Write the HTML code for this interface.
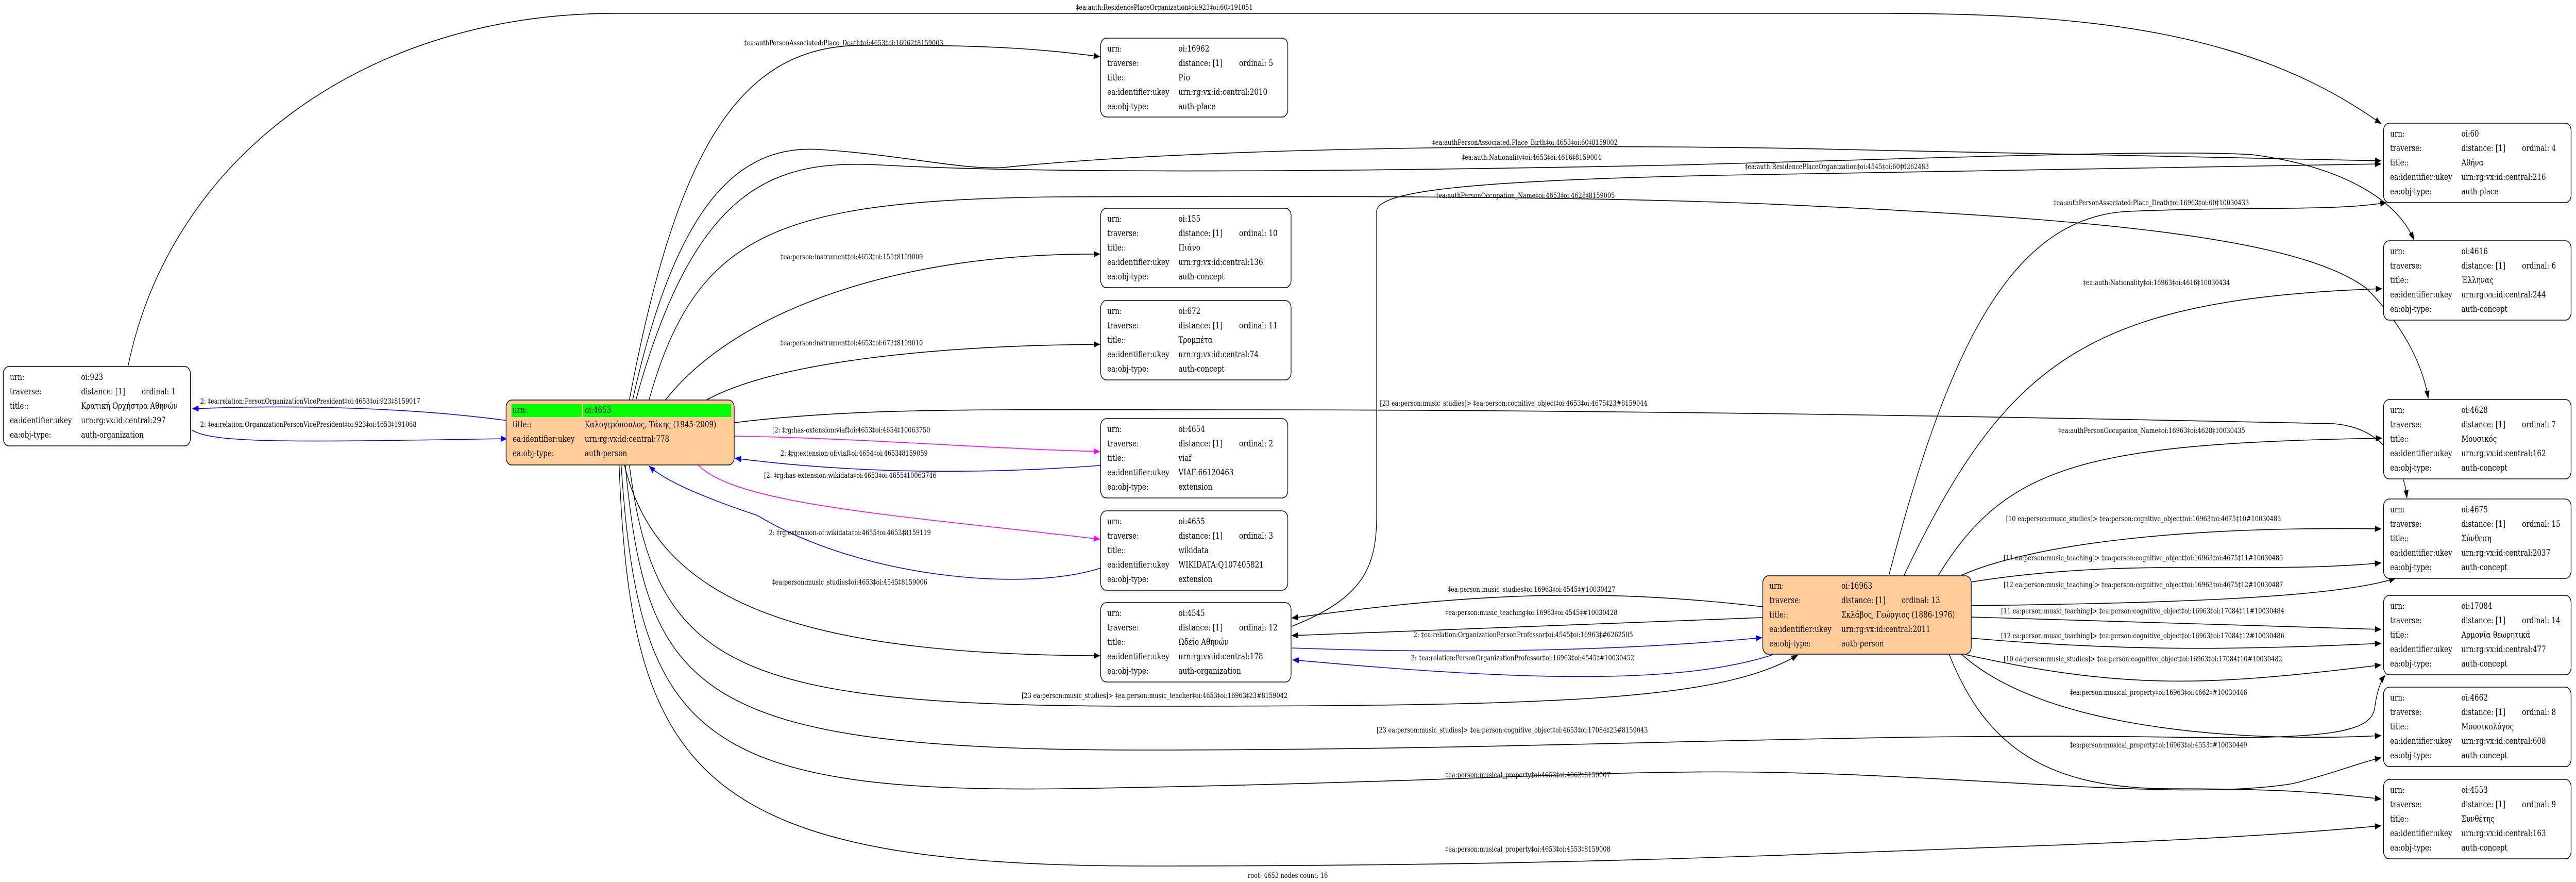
<!DOCTYPE html>
<html><head><meta charset="utf-8"><style>
html,body{margin:0;padding:0;background:#fff;width:100%;height:100%;overflow:hidden}
svg{display:block;position:absolute;left:0;top:0;width:100vw;height:100vh}
text{font-family:"DejaVu Serif","Liberation Serif",serif;font-size:14.3px;fill:#000}
.n text{font-size:17px}
path.e{fill:none;stroke:#000;stroke-width:1.6}
path.b{fill:none;stroke:#0000ff;stroke-width:1.6}
path.m{fill:none;stroke:#ff00ff;stroke-width:1.6}
rect.box{fill:#fff;stroke:#000;stroke-width:1.6}
rect.or{fill:#ffcc99;stroke:#000;stroke-width:1.6}
</style></head><body>
<svg viewBox="0 0 6291 1711" preserveAspectRatio="none" xmlns="http://www.w3.org/2000/svg">
<defs>
<marker id="ak" markerUnits="userSpaceOnUse" markerWidth="16" markerHeight="12" refX="15" refY="6" orient="auto"><path d="M0,0 L16,6 L0,12 z" fill="#000"/></marker>
<marker id="ab" markerUnits="userSpaceOnUse" markerWidth="16" markerHeight="12" refX="15" refY="6" orient="auto"><path d="M0,0 L16,6 L0,12 z" fill="#0000ff"/></marker>
<marker id="am" markerUnits="userSpaceOnUse" markerWidth="16" markerHeight="12" refX="15" refY="6" orient="auto"><path d="M0,0 L16,6 L0,12 z" fill="#ff00ff"/></marker>
</defs>

<path class="e" marker-end="url(#ak)" d="M313,709 C420,300 900,26 1500,26 L4600,26 C5100,26 5500,60 5815,240"/>
<text x="2628" y="19">‡ea:auth:ResidencePlaceOrganization‡oi:923‡oi:60‡191051</text>
<path class="b" marker-end="url(#ab)" d="M1240,816 C1000,790 700,785 470,793"/>
<text x="489" y="783">2: ‡ea:relation:PersonOrganizationVicePresident‡oi:4653‡oi:923‡8159017</text>
<path class="b" marker-end="url(#ab)" d="M468,834 C520,860 700,858 1238,851"/>
<text x="489" y="828">2: ‡ea:relation:OrganizationPersonVicePresident‡oi:923‡oi:4653‡191068</text>
<path class="e" marker-end="url(#ak)" d="M1537,776 C1650,300 1800,90 2100,88 C2400,86 2550,95 2686,110"/>
<text x="1817" y="88">‡ea:authPersonAssociated:Place_Death‡oi:4653‡oi:16962‡8159003</text>
<path class="e" marker-end="url(#ak)" d="M1545,776 C1650,400 1800,280 2000,290 C2200,300 2350,330 2450,325 C3000,280 4000,280 4500,290 C5000,300 5500,305 5815,312"/>
<text x="3498" y="281">‡ea:authPersonAssociated:Place_Birth‡oi:4653‡oi:60‡8159002</text>
<path class="e" marker-end="url(#ak)" d="M1553,776 C1700,350 1900,310 2150,320 C2600,340 3500,330 4100,320 C4800,305 5300,290 5500,300 C5700,320 5850,380 5895,465"/>
<text x="3570" y="310">‡ea:auth:Nationality‡oi:4653‡oi:4616‡8159004</text>
<path class="e" marker-end="url(#ak)" d="M3155,1215 C3330,1160 3362,1100 3362,1000 L3362,410 C3362,370 3600,350 4200,340 C5000,325 5500,320 5815,318"/>
<text x="4261" y="328">‡ea:auth:ResidencePlaceOrganization‡oi:4545‡oi:60‡6262483</text>
<path class="e" marker-end="url(#ak)" d="M1585,776 C1700,450 1900,390 2568,382 C3200,380 3800,380 4300,395 C5000,420 5600,450 5780,560 C5880,640 5920,720 5930,773"/>
<text x="3506" y="384">‡ea:authPersonOccupation_Name‡oi:4653‡oi:4628‡8159005</text>
<path class="e" marker-end="url(#ak)" d="M1625,776 C1800,600 2200,490 2686,493"/>
<text x="1906" y="503">‡ea:person:instrument‡oi:4653‡oi:155‡8159009</text>
<path class="e" marker-end="url(#ak)" d="M1725,776 C1900,700 2300,670 2686,668"/>
<text x="1906" y="670">‡ea:person:instrument‡oi:4653‡oi:672‡8159010</text>
<path class="e" marker-end="url(#ak)" d="M1793,820 C2100,790 2400,795 3000,795 C4000,795 5000,810 5700,822 C5820,830 5870,900 5878,966"/>
<text x="3370" y="787">[23 ea:person:music_studies]&gt; ‡ea:person:cognitive_object‡oi:4653‡oi:4675‡23#8159044</text>
<path class="m" marker-end="url(#am)" d="M1793,846 C2100,850 2400,870 2686,876"/>
<text x="1886" y="839">[2: ‡rg:has-extension:viaf‡oi:4653‡oi:4654‡10063750</text>
<path class="b" marker-end="url(#ab)" d="M2688,903 C2400,920 2100,920 1795,889"/>
<text x="1906" y="884">2: ‡rg:extension-of:viaf‡oi:4654‡oi:4653‡8159059</text>
<path class="m" marker-end="url(#am)" d="M1705,902 C1800,980 2200,1000 2686,1046"/>
<text x="1866" y="927">[2: ‡rg:has-extension:wikidata‡oi:4653‡oi:4655‡10063746</text>
<path class="b" marker-end="url(#ab)" d="M2688,1102 C2500,1150 2100,1120 1850,1000 C1700,960 1620,930 1585,904"/>
<text x="1878" y="1038">2: ‡rg:extension-of:wikidata‡oi:4655‡oi:4653‡8159119</text>
<path class="e" marker-end="url(#ak)" d="M1525,902 C1600,1150 1900,1270 2686,1272"/>
<text x="1886" y="1134">‡ea:person:music_studies‡oi:4653‡oi:4545‡8159006</text>
<path class="e" marker-end="url(#ak)" d="M1537,902 C1600,1300 1800,1370 2800,1370 C3800,1370 4200,1360 4390,1271"/>
<text x="2495" y="1354">[23 ea:person:music_studies]&gt; ‡ea:person:music_teacher‡oi:4653‡oi:16963‡23#8159042</text>
<path class="e" marker-end="url(#ak)" d="M1527,902 C1580,1350 1700,1455 2800,1455 C3800,1455 4500,1420 5300,1430 C5700,1435 5795,1420 5800,1370 C5805,1340 5815,1320 5825,1310"/>
<text x="3362" y="1421">[23 ea:person:music_studies]&gt; ‡ea:person:cognitive_object‡oi:4653‡oi:17084‡23#8159043</text>
<path class="e" marker-end="url(#ak)" d="M1517,902 C1560,1420 1700,1540 2600,1530 C3400,1520 3800,1500 4100,1498 C4700,1490 5300,1560 5600,1520 C5700,1500 5760,1480 5815,1470"/>
<text x="3530" y="1508">‡ea:person:musical_property‡oi:4653‡oi:4662‡8159007</text>
<path class="e" marker-end="url(#ak)" d="M1512,902 C1540,1500 1700,1680 2800,1680 C3800,1680 4300,1660 5000,1640 C5500,1625 5700,1610 5815,1602"/>
<text x="3530" y="1652">‡ea:person:musical_property‡oi:4653‡oi:4553‡8159008</text>

<path class="e" marker-end="url(#ak)" d="M4305,1177 C3900,1140 3600,1150 3155,1199"/>
<text x="3536" y="1148">‡ea:person:music_studies‡oi:16963‡oi:4545‡#10030427</text>
<path class="e" marker-end="url(#ak)" d="M4305,1198 C3900,1210 3500,1220 3155,1233"/>
<text x="3530" y="1193">‡ea:person:music_teaching‡oi:16963‡oi:4545‡#10030428</text>
<path class="b" marker-end="url(#ab)" d="M3155,1257 C3600,1270 4000,1260 4303,1237"/>
<text x="3452" y="1236">2: ‡ea:relation:OrganizationPersonProfessor‡oi:4545‡oi:16963‡#6262505</text>
<path class="b" marker-end="url(#ab)" d="M4330,1270 C4100,1330 3700,1320 3157,1280"/>
<text x="3446" y="1281">2: ‡ea:relation:PersonOrganizationProfessor‡oi:16963‡oi:4545‡#10030452</text>
<path class="e" marker-end="url(#ak)" d="M4613,1116 C4750,700 4900,420 5200,410 C5500,400 5700,410 5828,393"/>
<text x="5015" y="398">‡ea:authPersonAssociated:Place_Death‡oi:16963‡oi:60‡10030433</text>
<path class="e" marker-end="url(#ak)" d="M4650,1116 C4900,700 5100,580 5817,560"/>
<text x="5087" y="553">‡ea:auth:Nationality‡oi:16963‡oi:4616‡10030434</text>
<path class="e" marker-end="url(#ak)" d="M4734,1116 C4900,900 5100,860 5817,850"/>
<text x="5027" y="840">‡ea:authPersonOccupation_Name‡oi:16963‡oi:4628‡10030435</text>
<path class="e" marker-end="url(#ak)" d="M4790,1116 C4950,1060 5300,1020 5815,1026"/>
<text x="4899" y="1011">[10 ea:person:music_studies]&gt; ‡ea:person:cognitive_object‡oi:16963‡oi:4675‡10#10030483</text>
<path class="e" marker-end="url(#ak)" d="M4814,1129 C5200,1080 5500,1115 5815,1092"/>
<text x="4893" y="1087">[11 ea:person:music_teaching]&gt; ‡ea:person:cognitive_object‡oi:16963‡oi:4675‡11#10030485</text>
<path class="e" marker-end="url(#ak)" d="M4814,1175 C5300,1170 5700,1160 5850,1122"/>
<text x="4893" y="1139">[12 ea:person:music_teaching]&gt; ‡ea:person:cognitive_object‡oi:16963‡oi:4675‡12#10030487</text>
<path class="e" marker-end="url(#ak)" d="M4814,1197 L5815,1221"/>
<text x="4887" y="1190">[11 ea:person:music_teaching]&gt; ‡ea:person:cognitive_object‡oi:16963‡oi:17084‡11#10030484</text>
<path class="e" marker-end="url(#ak)" d="M4814,1238 C5200,1265 5500,1260 5815,1248"/>
<text x="4887" y="1238">[12 ea:person:music_teaching]&gt; ‡ea:person:cognitive_object‡oi:16963‡oi:17084‡12#10030486</text>
<path class="e" marker-end="url(#ak)" d="M4800,1270 C5200,1340 5400,1330 5815,1290"/>
<text x="4893" y="1283">[10 ea:person:music_studies]&gt; ‡ea:person:cognitive_object‡oi:16963‡oi:17084‡10#10030482</text>
<path class="e" marker-end="url(#ak)" d="M4790,1269 C5000,1420 5500,1440 5815,1427"/>
<text x="5055" y="1348">‡ea:person:musical_property‡oi:16963‡oi:4662‡#10030446</text>
<path class="e" marker-end="url(#ak)" d="M4760,1269 C4850,1450 5000,1530 5300,1530 C5600,1530 5700,1540 5815,1550"/>
<text x="5055" y="1450">‡ea:person:musical_property‡oi:16963‡oi:4553‡#10030449</text>

<text x="3145" y="1703" text-anchor="middle">root: 4653 nodes count: 16</text>

<g class="n">
<rect class="box" x="8" y="711" width="457" height="154" rx="14"/>
<text x="24" y="737">urn:</text><text x="198" y="737">oi:923</text>
<text x="24" y="765">traverse:</text><text x="198" y="765">distance: [1]</text><text x="346" y="765">ordinal: 1</text>
<text x="24" y="793">title::</text><text x="198" y="793">Κρατική Ορχήστρα Αθηνών</text>
<text x="24" y="821">ea:identifier:ukey</text><text x="198" y="821">urn:rg:vx:id:central:297</text>
<text x="24" y="849">ea:obj-type:</text><text x="198" y="849">auth-organization</text>

<rect class="or" x="1236" y="776" width="557" height="126" rx="14"/>
<rect x="1249" y="784" width="172" height="25" fill="#00ff00"/>
<rect x="1424" y="784" width="362" height="25" fill="#00ff00"/>
<text x="1252" y="801">urn:</text><text x="1428" y="801">oi:4653</text>
<text x="1252" y="829">title::</text><text x="1428" y="829">Καλογερόπουλος, Τάκης (1945-2009)</text>
<text x="1252" y="857">ea:identifier:ukey</text><text x="1428" y="857">urn:rg:vx:id:central:778</text>
<text x="1252" y="885">ea:obj-type:</text><text x="1428" y="885">auth-person</text>

<rect class="box" x="2688" y="74" width="457" height="153" rx="14"/>
<text x="2704" y="100">urn:</text><text x="2878" y="100">oi:16962</text>
<text x="2704" y="128">traverse:</text><text x="2878" y="128">distance: [1]</text><text x="3026" y="128">ordinal: 5</text>
<text x="2704" y="156">title::</text><text x="2878" y="156">Ρίο</text>
<text x="2704" y="184">ea:identifier:ukey</text><text x="2878" y="184">urn:rg:vx:id:central:2010</text>
<text x="2704" y="212">ea:obj-type:</text><text x="2878" y="212">auth-place</text>

<rect class="box" x="2688" y="404" width="465" height="154" rx="14"/>
<text x="2704" y="430">urn:</text><text x="2878" y="430">oi:155</text>
<text x="2704" y="458">traverse:</text><text x="2878" y="458">distance: [1]</text><text x="3026" y="458">ordinal: 10</text>
<text x="2704" y="486">title::</text><text x="2878" y="486">Πιάνο</text>
<text x="2704" y="514">ea:identifier:ukey</text><text x="2878" y="514">urn:rg:vx:id:central:136</text>
<text x="2704" y="542">ea:obj-type:</text><text x="2878" y="542">auth-concept</text>

<rect class="box" x="2688" y="583" width="465" height="154" rx="14"/>
<text x="2704" y="609">urn:</text><text x="2878" y="609">oi:672</text>
<text x="2704" y="637">traverse:</text><text x="2878" y="637">distance: [1]</text><text x="3026" y="637">ordinal: 11</text>
<text x="2704" y="665">title::</text><text x="2878" y="665">Τρομπέτα</text>
<text x="2704" y="693">ea:identifier:ukey</text><text x="2878" y="693">urn:rg:vx:id:central:74</text>
<text x="2704" y="721">ea:obj-type:</text><text x="2878" y="721">auth-concept</text>

<rect class="box" x="2688" y="812" width="457" height="154" rx="14"/>
<text x="2704" y="838">urn:</text><text x="2878" y="838">oi:4654</text>
<text x="2704" y="866">traverse:</text><text x="2878" y="866">distance: [1]</text><text x="3026" y="866">ordinal: 2</text>
<text x="2704" y="894">title::</text><text x="2878" y="894">viaf</text>
<text x="2704" y="922">ea:identifier:ukey</text><text x="2878" y="922">VIAF:66120463</text>
<text x="2704" y="950">ea:obj-type:</text><text x="2878" y="950">extension</text>

<rect class="box" x="2688" y="991" width="457" height="154" rx="14"/>
<text x="2704" y="1017">urn:</text><text x="2878" y="1017">oi:4655</text>
<text x="2704" y="1045">traverse:</text><text x="2878" y="1045">distance: [1]</text><text x="3026" y="1045">ordinal: 3</text>
<text x="2704" y="1073">title::</text><text x="2878" y="1073">wikidata</text>
<text x="2704" y="1101">ea:identifier:ukey</text><text x="2878" y="1101">WIKIDATA:Q107405821</text>
<text x="2704" y="1129">ea:obj-type:</text><text x="2878" y="1129">extension</text>

<rect class="box" x="2688" y="1169" width="465" height="154" rx="14"/>
<text x="2704" y="1195">urn:</text><text x="2878" y="1195">oi:4545</text>
<text x="2704" y="1223">traverse:</text><text x="2878" y="1223">distance: [1]</text><text x="3026" y="1223">ordinal: 12</text>
<text x="2704" y="1251">title::</text><text x="2878" y="1251">Ωδείο Αθηνών</text>
<text x="2704" y="1279">ea:identifier:ukey</text><text x="2878" y="1279">urn:rg:vx:id:central:178</text>
<text x="2704" y="1307">ea:obj-type:</text><text x="2878" y="1307">auth-organization</text>

<rect class="or" x="4305" y="1117" width="509" height="152" rx="14"/>
<text x="4321" y="1142">urn:</text><text x="4497" y="1142">oi:16963</text>
<text x="4321" y="1170">traverse:</text><text x="4497" y="1170">distance: [1]</text><text x="4644" y="1170">ordinal: 13</text>
<text x="4321" y="1198">title::</text><text x="4497" y="1198">Σκλάβος, Γεώργιος (1886-1976)</text>
<text x="4321" y="1226">ea:identifier:ukey</text><text x="4497" y="1226">urn:rg:vx:id:central:2011</text>
<text x="4321" y="1254">ea:obj-type:</text><text x="4497" y="1254">auth-person</text>

<rect class="box" x="5821" y="239" width="458" height="154" rx="14"/>
<text x="5837" y="265">urn:</text><text x="6011" y="265">oi:60</text>
<text x="5837" y="293">traverse:</text><text x="6011" y="293">distance: [1]</text><text x="6159" y="293">ordinal: 4</text>
<text x="5837" y="321">title::</text><text x="6011" y="321">Αθήνα</text>
<text x="5837" y="349">ea:identifier:ukey</text><text x="6011" y="349">urn:rg:vx:id:central:216</text>
<text x="5837" y="377">ea:obj-type:</text><text x="6011" y="377">auth-place</text>

<rect class="box" x="5821" y="467" width="458" height="154" rx="14"/>
<text x="5837" y="493">urn:</text><text x="6011" y="493">oi:4616</text>
<text x="5837" y="521">traverse:</text><text x="6011" y="521">distance: [1]</text><text x="6159" y="521">ordinal: 6</text>
<text x="5837" y="549">title::</text><text x="6011" y="549">Έλληνας</text>
<text x="5837" y="577">ea:identifier:ukey</text><text x="6011" y="577">urn:rg:vx:id:central:244</text>
<text x="5837" y="605">ea:obj-type:</text><text x="6011" y="605">auth-concept</text>

<rect class="box" x="5821" y="775" width="458" height="154" rx="14"/>
<text x="5837" y="801">urn:</text><text x="6011" y="801">oi:4628</text>
<text x="5837" y="829">traverse:</text><text x="6011" y="829">distance: [1]</text><text x="6159" y="829">ordinal: 7</text>
<text x="5837" y="857">title::</text><text x="6011" y="857">Μουσικός</text>
<text x="5837" y="885">ea:identifier:ukey</text><text x="6011" y="885">urn:rg:vx:id:central:162</text>
<text x="5837" y="913">ea:obj-type:</text><text x="6011" y="913">auth-concept</text>

<rect class="box" x="5821" y="968" width="458" height="154" rx="14"/>
<text x="5837" y="994">urn:</text><text x="6011" y="994">oi:4675</text>
<text x="5837" y="1022">traverse:</text><text x="6011" y="1022">distance: [1]</text><text x="6159" y="1022">ordinal: 15</text>
<text x="5837" y="1050">title::</text><text x="6011" y="1050">Σύνθεση</text>
<text x="5837" y="1078">ea:identifier:ukey</text><text x="6011" y="1078">urn:rg:vx:id:central:2037</text>
<text x="5837" y="1106">ea:obj-type:</text><text x="6011" y="1106">auth-concept</text>

<rect class="box" x="5821" y="1155" width="458" height="154" rx="14"/>
<text x="5837" y="1181">urn:</text><text x="6011" y="1181">oi:17084</text>
<text x="5837" y="1209">traverse:</text><text x="6011" y="1209">distance: [1]</text><text x="6159" y="1209">ordinal: 14</text>
<text x="5837" y="1237">title::</text><text x="6011" y="1237">Αρμονία θεωρητικά</text>
<text x="5837" y="1265">ea:identifier:ukey</text><text x="6011" y="1265">urn:rg:vx:id:central:477</text>
<text x="5837" y="1293">ea:obj-type:</text><text x="6011" y="1293">auth-concept</text>

<rect class="box" x="5821" y="1333" width="458" height="154" rx="14"/>
<text x="5837" y="1359">urn:</text><text x="6011" y="1359">oi:4662</text>
<text x="5837" y="1387">traverse:</text><text x="6011" y="1387">distance: [1]</text><text x="6159" y="1387">ordinal: 8</text>
<text x="5837" y="1415">title::</text><text x="6011" y="1415">Μουσικολόγος</text>
<text x="5837" y="1443">ea:identifier:ukey</text><text x="6011" y="1443">urn:rg:vx:id:central:608</text>
<text x="5837" y="1471">ea:obj-type:</text><text x="6011" y="1471">auth-concept</text>

<rect class="box" x="5821" y="1512" width="458" height="154" rx="14"/>
<text x="5837" y="1538">urn:</text><text x="6011" y="1538">oi:4553</text>
<text x="5837" y="1566">traverse:</text><text x="6011" y="1566">distance: [1]</text><text x="6159" y="1566">ordinal: 9</text>
<text x="5837" y="1594">title::</text><text x="6011" y="1594">Συνθέτης</text>
<text x="5837" y="1622">ea:identifier:ukey</text><text x="6011" y="1622">urn:rg:vx:id:central:163</text>
<text x="5837" y="1650">ea:obj-type:</text><text x="6011" y="1650">auth-concept</text>
</g>
</svg>
</body></html>
